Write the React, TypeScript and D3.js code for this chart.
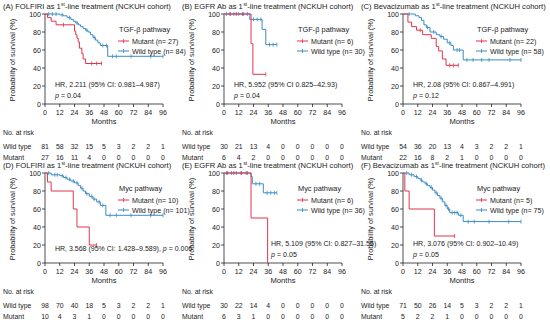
import React from "react";
import * as d3 from "d3";

const monthTicks = [0, 12, 24, 36, 48, 60, 72, 84, 96];
const yTicks = [0, 20, 40, 60, 80, 100];
const panelLetters = ["(A)", "(B)", "(C)", "(D)", "(E)", "(F)"];
const panelDrugs = ["FOLFIRI", "EGFR Ab", "Bevacizumab", "FOLFIRI", "EGFR Ab", "Bevacizumab"];
const pathwayNames = ["TGF-β pathway", "TGF-β pathway", "TGF-β pathway", "Myc pathway", "Myc pathway", "Myc pathway"];
const mutantN = [27, 6, 22, 10, 6, 5];
const wildN = [84, 30, 58, 101, 36, 75];
const hrTexts = [
  "HR, 2.211 (95% CI: 0.981–4.987)",
  "HR, 5.952 (95% CI 0.825–42.93)",
  "HR, 2.08 (95% CI: 0.867–4.991)",
  "HR, 3.568 (95% CI: 1.428–9.589), ",
  "HR, 5.109 (95% CI: 0.827–31.56)",
  "HR, 3.076 (95% CI: 0.902–10.49)",
];
const pTexts = ["= 0.04", "= 0.04", "= 0.12", "= 0.006", "= 0.05", "= 0.05"];

const atRiskWild = [
  [81, 58, 32, 15, 5, 3, 2, 2, 1],
  [30, 21, 13, 4, 0, 0, 0, 0, 0],
  [54, 36, 20, 13, 4, 3, 2, 2, 1],
  [98, 70, 40, 18, 5, 3, 2, 2, 1],
  [30, 22, 14, 4, 0, 0, 0, 0, 0],
  [71, 50, 26, 14, 5, 3, 2, 2, 1],
];
const atRiskMutant = [
  [27, 16, 11, 4, 0, 0, 0, 0, 0],
  [6, 4, 2, 0, 0, 0, 0, 0, 0],
  [22, 16, 8, 2, 1, 0, 0, 0, 0],
  [10, 4, 3, 1, 0, 0, 0, 0, 0],
  [6, 3, 1, 0, 0, 0, 0, 0, 0],
  [5, 2, 2, 1, 0, 0, 0, 0, 0],
];

// KM steps: [month, survival %]
const mutantSteps = [
  [[0, 100], [2, 96], [5, 92], [9, 88], [24, 81], [25, 77], [26, 73], [27, 69], [28, 62], [30, 56], [31, 50], [33, 45]],
  [[0, 100], [22, 67], [23.5, 33]],
  [[0, 100], [4, 91], [7, 86], [11, 82], [16, 77], [23, 73], [27, 64], [29, 59], [32, 50], [35, 43]],
  [[0, 100], [2, 90], [5, 80], [23, 60], [26, 40], [36, 20]],
  [[0, 100], [22, 50], [35.5, 0]],
  [[0, 100], [1.5, 80], [5, 60], [25.5, 30]],
];
const mutantEnd = [46, 34, 45, 42, 35.5, 42];
const mutantCensor = [
  [15, 38, 42, 46],
  [5, 10, 15, 34],
  [14, 38, 41, 45],
  [42],
  [3, 8, 14, 19],
  [42],
];
const wildSteps = [
  [[0, 100], [12, 99], [15, 98], [18, 96], [21, 94], [23, 92], [25, 90], [27, 88], [29, 86], [31, 84], [33, 82], [35, 80], [37, 77], [39, 74], [41, 71], [43, 68], [45, 65], [51, 53]],
  [[0, 100], [21, 94], [31, 83], [34, 66]],
  [[0, 100], [10, 98], [13, 96], [15, 93], [17, 88], [19, 85], [22, 80], [27, 77], [30, 75], [33, 72], [36, 68], [39, 65], [41, 60], [49, 49]],
  [[0, 100], [5, 98], [12, 97], [15, 95], [18, 93], [21, 91], [24, 89], [27, 86], [29, 83], [31, 80], [33, 77], [36, 74], [39, 71], [42, 68], [45, 64], [49.5, 53]],
  [[0, 100], [22, 96], [23, 88], [32, 78]],
  [[0, 100], [5, 98], [9, 96], [12, 94], [14, 92], [16, 90], [18, 88], [20, 86], [22, 84], [24, 81], [26, 78], [28, 75], [30, 72], [32, 68], [34, 64], [36, 60], [38, 56], [45, 53], [49, 46]],
];
const wildEnd = [96, 43, 96, 96, 43, 96];
const wildCensor = [
  [3, 6, 9, 14, 20, 26, 34, 40, 47, 50, 55, 58, 70, 86, 96],
  [2, 5, 8, 12, 16, 19, 24, 27, 30, 37, 40, 43],
  [5, 20, 25, 31, 38, 44, 46, 52, 57, 64, 70, 87, 96],
  [3, 8, 10, 14, 17, 20, 23, 26, 30, 34, 38, 40, 44, 47, 53, 58, 70, 86, 96],
  [2, 6, 10, 14, 18, 26, 29, 35, 38, 41, 43],
  [3, 7, 11, 15, 19, 23, 27, 31, 35, 37, 40, 42, 44, 47, 53, 58, 70, 86, 96],
];

const RED = "#e2354d";
const BLUE = "#3b8cc4";
const FONT = "Arial, 'Liberation Sans', Helvetica, sans-serif";

let ctx: CanvasRenderingContext2D | null = null;
function measure(text: string, size: number) {
  if (!ctx) ctx = document.createElement("canvas").getContext("2d");
  if (!ctx) return text.length * size * 0.5;
  ctx.font = `${size}px ${FONT}`;
  return ctx.measureText(text).width;
}

function survAt(steps: number[][], t: number) {
  let s = steps[0][1];
  for (const [tm, sv] of steps) if (tm <= t) s = sv;
  return s;
}

function Curve({ steps, end, censor, color, x, y }: any) {
  const pts: [number, number][] = [];
  steps.forEach(([t, s]: number[], i: number) => {
    if (i > 0) pts.push([t, steps[i - 1][1]]);
    pts.push([t, s]);
  });
  pts.push([end, steps[steps.length - 1][1]]);
  const line = d3.line<[number, number]>().x((d) => x(d[0])).y((d) => y(d[1]));
  return (
    <g>
      <path d={line(pts) || ""} fill="none" stroke={color} strokeWidth={1} />
      {censor.map((c: number, i: number) => {
        const yy = y(survAt(steps, c));
        return <line key={i} x1={x(c)} x2={x(c)} y1={yy - 2} y2={yy + 2} stroke={color} strokeWidth={0.8} />;
      })}
    </g>
  );
}

function Title({ idx }: { idx: number }) {
  const size = 7.6;
  const supSize = 4.8;
  const base = 9.2;
  const head = `${panelLetters[idx]} ${panelDrugs[idx]} as 1`;
  const w1 = measure(head, size);
  const w2 = measure("st", supSize);
  return (
    <g>
      <text x={3} y={base} fontSize={size}>{head}</text>
      <text x={3 + w1 + 0.2} y={base - 3} fontSize={supSize}>st</text>
      <text x={3 + w1 + w2 + 0.4} y={base} fontSize={size}>-line treatment (NCKUH cohort)</text>
    </g>
  );
}

function Panel({ idx, ox, oy }: { idx: number; ox: number; oy: number }) {
  const x = d3.scaleLinear().domain([0, 96]).range([45, 163]);
  const y = d3.scaleLinear().domain([0, 100]).range([104, 14]);
  const fs = 7.1;
  const lf = 7.1;
  return (
    <g transform={`translate(${ox},${oy})`} fontFamily={FONT} fill="#222">
      <Title idx={idx} />
      <g transform={`translate(15,${y(50) + 1}) rotate(-90)`}>
        <text textAnchor="middle" fontSize={7.3}>Probability of survival (%)</text>
      </g>
      {/* axes */}
      <line x1={x(0)} x2={x(0)} y1={y(0)} y2={y(100)} stroke="#222" strokeWidth={0.8} />
      <line x1={x(0)} x2={x(96)} y1={y(0)} y2={y(0)} stroke="#222" strokeWidth={0.8} />
      {yTicks.map((t) => (
        <g key={t}>
          <line x1={x(0) - 3} x2={x(0)} y1={y(t)} y2={y(t)} stroke="#222" strokeWidth={0.8} />
          <text x={x(0) - 4} y={y(t) + 2.5} textAnchor="end" fontSize={fs}>{t}</text>
        </g>
      ))}
      {monthTicks.map((t) => (
        <g key={t}>
          <line x1={x(t)} x2={x(t)} y1={y(0)} y2={y(0) + 3} stroke="#222" strokeWidth={0.8} />
          <text x={x(t)} y={y(0) + 10.5} textAnchor="middle" fontSize={fs}>{t}</text>
        </g>
      ))}
      <text x={x(48)} y={124} textAnchor="middle" fontSize={7.6}>Months</text>
      {/* curves */}
      <Curve steps={wildSteps[idx]} end={wildEnd[idx]} censor={wildCensor[idx]} color={BLUE} x={x} y={y} />
      <Curve steps={mutantSteps[idx]} end={mutantEnd[idx]} censor={mutantCensor[idx]} color={RED} x={x} y={y} />
      {/* legend */}
      <text x={119} y={32} fontSize={7.4}>{pathwayNames[idx]}</text>
      <line x1={118} x2={129} y1={41} y2={41} stroke={RED} strokeWidth={1} />
      <line x1={123.5} x2={123.5} y1={39} y2={43} stroke={RED} strokeWidth={0.8} />
      <text x={132} y={43.5} fontSize={lf}>Mutant (n= {mutantN[idx]})</text>
      <line x1={118} x2={129} y1={51} y2={51} stroke={BLUE} strokeWidth={1} />
      <line x1={123.5} x2={123.5} y1={49} y2={53} stroke={BLUE} strokeWidth={0.8} />
      <text x={132} y={53.5} fontSize={lf}>Wild type (n= {wildN[idx]})</text>
      {/* HR */}
      {idx === 3 ? (
        <text x={55} y={92} fontSize={7}>
          {hrTexts[idx]}<tspan fontStyle="italic">p</tspan> {pTexts[idx]}
        </text>
      ) : (
        <g>
          <text x={idx === 4 ? 92 : 55} y={87} fontSize={7.1}>{hrTexts[idx]}</text>
          <text x={idx === 4 ? 92 : 55} y={98} fontSize={7.1}>
            <tspan fontStyle="italic">p</tspan> {pTexts[idx]}
          </text>
        </g>
      )}
      {/* at risk */}
      <text x={3} y={135} fontSize={6.9}>No. at risk</text>
      <text x={3} y={148.5} fontSize={6.9}>Wild type</text>
      <text x={3} y={160} fontSize={6.9}>Mutant</text>
      {monthTicks.map((t, i) => (
        <g key={t}>
          <text x={x(t)} y={148.5} textAnchor="middle" fontSize={6.9}>{atRiskWild[idx][i]}</text>
          <text x={x(t)} y={160} textAnchor="middle" fontSize={6.9}>{atRiskMutant[idx][i]}</text>
        </g>
      ))}
    </g>
  );
}

export default function App() {
  const cols = [0, 179, 358];
  const rows = [0, 159];
  return (
    <svg width={550} height={322} style={{ position: "absolute", left: 0, top: 0, background: "#fff" }}>
      <rect width={550} height={322} fill="#fff" />
      {[0, 1, 2, 3, 4, 5].map((i) => (
        <Panel key={i} idx={i} ox={cols[i % 3]} oy={rows[Math.floor(i / 3)]} />
      ))}
    </svg>
  );
}
